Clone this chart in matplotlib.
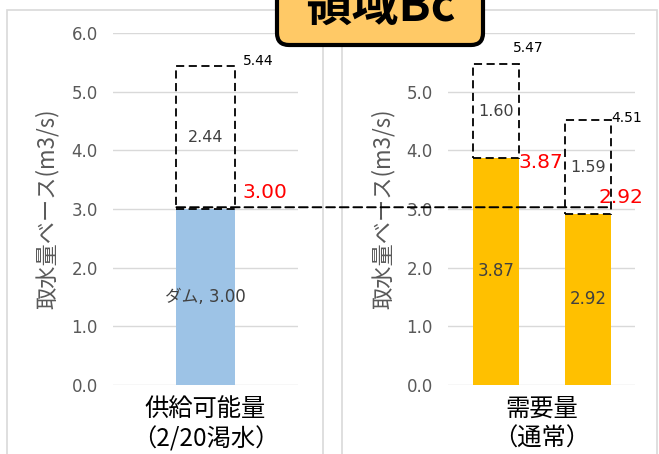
import matplotlib
matplotlib.use("Agg")
import matplotlib.pyplot as plt
from matplotlib.patches import Rectangle, FancyBboxPatch, ConnectionPatch
from matplotlib.transforms import IdentityTransform
import numpy as np

# ---------------- data ----------------
supply_category = "供給可能量\n（2/20渇水）"
demand_category = "需要量\n（通常）"
supply_series = "ダム"
supply_value = [3.00]
supply_extra = [2.44]
supply_total = [5.44]
demand_values = [3.87, 2.92]
demand_extra = [1.60, 1.59]
demand_total = [5.47, 4.51]
ref_level = 3.03
yticks = [0, 1, 2, 3, 4, 5, 6]
ylabel = "取水量ベース(m3/s)"
title = "領域Bc"

W, H = 659, 454
DPI = 100
plt.rcParams['font.family'] = ['DejaVu Sans']
fig = plt.figure(figsize=(W / DPI, H / DPI), dpi=DPI)
CJK = ['Noto Sans CJK JP', 'DejaVu Sans']
MIX = ['DejaVu Sans', 'Noto Sans CJK JP']

def fx(px):
    return px / W

def fy(py):
    return 1 - py / H

blue = "#9DC3E6"
orange = "#FFC000"
grid_c = "#D9D9D9"
tick_c = "#595959"
in_c = "#404040"
red = "#FF0000"

# panel borders
for x0, x1 in [(7, 323), (342, 657)]:
    fig.add_artist(Rectangle((fx(x0), fy(470)), fx(x1) - fx(x0), fy(10) - fy(470),
                             transform=fig.transFigure, fill=False,
                             edgecolor=grid_c, lw=1.2, zorder=0.5))

ax1 = fig.add_axes([fx(113), fy(385), fx(298) - fx(113), fy(33) - fy(385)])
ax2 = fig.add_axes([fx(448), fy(385), fx(635) - fx(448), fy(33) - fy(385)])

def style(ax, lab_x):
    ax.set_ylim(0, 6)
    ax.set_yticks(yticks)
    ax.set_yticklabels([f"{v:.1f}" for v in yticks])
    ax.tick_params(axis='y', length=0, pad=11, labelsize=12, colors=tick_c)
    ax.tick_params(axis='x', length=0, pad=8)
    for s in ax.spines.values():
        s.set_visible(False)
    ax.grid(axis='y', color=grid_c, lw=1)
    ax.set_axisbelow(True)
    ax.patch.set_alpha(0)
    ax.set_ylabel(ylabel, family=CJK, fontsize=16, color=tick_c)
    ax.yaxis.set_label_coords(lab_x, 0.5)

style(ax1, -0.29)
style(ax2, -0.285)

dash = (0, (4.5, 2.5))
px2pt = 72 / DPI

# ---- left panel ----
bw1 = 0.314
x1 = np.arange(len(supply_value))
ax1.set_xlim(-0.5, 0.5)
ax1.bar(x1, supply_value, width=bw1, color=blue, zorder=2)
ax1.bar(x1, supply_extra, bottom=supply_value, width=bw1, fill=False,
        edgecolor='black', linestyle=dash, lw=1.3, zorder=3)
ax1.set_xticks([0])
ax1.set_xticklabels([supply_category], family=CJK, fontsize=17.5, linespacing=1.2)
for i in range(len(supply_value)):
    ax1.text(x1[i], supply_value[i] / 2, f"{supply_series}, {supply_value[i]:.2f}",
             family=MIX, fontsize=12, color=in_c, ha='center', va='center', zorder=4)
    ax1.text(x1[i], supply_value[i] + supply_extra[i] / 2, f"{supply_extra[i]:.2f}",
             fontsize=11.5, color=in_c, ha='center', va='center', zorder=4)
    ax1.annotate(f"{supply_total[i]:.2f}", (x1[i] + bw1 / 2, supply_total[i]),
                 xytext=(8 * px2pt, 5 * px2pt), textcoords='offset points',
                 fontsize=10, color='black', ha='left', va='center')
    ax1.annotate(f"{supply_value[i]:.2f}", (x1[i] + bw1 / 2, supply_value[i]),
                 xytext=(8 * px2pt, 17 * px2pt), textcoords='offset points',
                 fontsize=14.5, color=red, ha='left', va='center', zorder=5)

# ---- right panel ----
bw2 = 0.5
x2 = np.arange(len(demand_values))
ax2.set_xlim(-0.52, 1.51)
ax2.bar(x2, demand_values, width=bw2, color=orange, zorder=2)
ax2.bar(x2, demand_extra, bottom=demand_values, width=bw2, fill=False,
        edgecolor='black', linestyle=dash, lw=1.3, zorder=3)
ax2.set_xticks([(x2[0] + x2[-1]) / 2])
ax2.set_xticklabels([demand_category], family=CJK, fontsize=17.5, linespacing=1.2)
tot_off = [(-6, 16), (0, 2)]
red_off = [(0, -5), (-13, 16)]
for i in range(len(demand_values)):
    ax2.text(x2[i], demand_values[i] / 2, f"{demand_values[i]:.2f}",
             fontsize=12, color=in_c, ha='center', va='center', zorder=4)
    ax2.text(x2[i], demand_values[i] + demand_extra[i] / 2, f"{demand_extra[i]:.2f}",
             fontsize=11.5, color=in_c, ha='center', va='center', zorder=4)
    ax2.annotate(f"{demand_total[i]:.2f}", (x2[i] + bw2 / 2, demand_total[i]),
                 xytext=(tot_off[i][0] * px2pt, tot_off[i][1] * px2pt),
                 textcoords='offset points',
                 fontsize=10, color='black', ha='left', va='center')
    ax2.annotate(f"{demand_values[i]:.2f}", (x2[i] + bw2 / 2, demand_values[i]),
                 xytext=(red_off[i][0] * px2pt, red_off[i][1] * px2pt),
                 textcoords='offset points',
                 fontsize=14.5, color=red, ha='left', va='center', zorder=5)

# dashed reference line spanning both panels
con = ConnectionPatch(xyA=(x1[0] - bw1 / 2, ref_level), coordsA=ax1.transData,
                      xyB=(x2[-1] + bw2 / 2, ref_level), coordsB=ax2.transData,
                      color='black', lw=1.4, linestyle=dash, zorder=6)
fig.add_artist(con)

# title box
box = FancyBboxPatch((277, H - 45), 483 - 277, 90, transform=IdentityTransform(),
                     boxstyle="round,pad=0,rounding_size=12",
                     facecolor="#FFC966", edgecolor='black', lw=3, zorder=8)
fig.add_artist(box)
fig.text(fx(380), fy(21), title, family=CJK, fontweight='bold', fontsize=34,
         ha='center', va='baseline', color='black', zorder=9)

fig.savefig("out.png", dpi=DPI)
